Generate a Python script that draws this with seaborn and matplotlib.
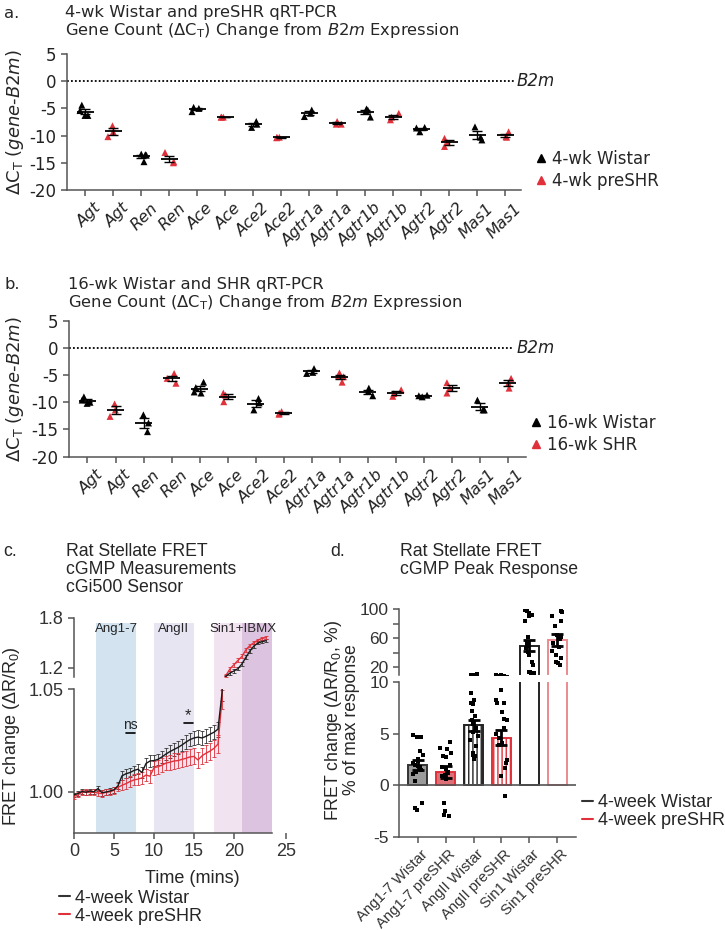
import numpy as np
import pandas as pd
import matplotlib
matplotlib.use("Agg")
import matplotlib.pyplot as plt
import matplotlib.transforms as mtrans
from matplotlib.lines import Line2D
import seaborn as sns

# ---------------- data ----------------
genes = ["Agt", "Agt", "Ren", "Ren", "Ace", "Ace", "Ace2", "Ace2",
         "Agtr1a", "Agtr1a", "Agtr1b", "Agtr1b", "Agtr2", "Agtr2", "Mas1", "Mas1"]

groups_a = ["4-wk Wistar", "4-wk preSHR"]
a_wistar = [[-4.4, -5.4, -6.3, -6.3], [-13.4, -13.6, -13.5, -14.8], [-4.8, -5.0, -5.6],
            [-7.4, -7.9, -8.5], [-5.3, -5.9, -6.5], [-5.3, -5.1, -5.5, -6.6],
            [-8.5, -8.6, -9.3], [-8.4, -10.3, -10.8]]
a_preshr = [[-8.2, -9.3, -10.2], [-13.1, -14.8, -15.0], [-6.6, -6.6, -6.6],
            [-10.3, -10.3, -10.4], [-7.4, -7.9, -7.9], [-5.9, -6.6, -7.1],
            [-10.5, -11.3, -12.0], [-9.3, -10.2, -10.3]]

groups_b = ["16-wk Wistar", "16-wk SHR"]
b_wistar = [[-9.0, -9.6, -10.2, -10.0], [-12.3, -13.8, -15.4], [-6.3, -7.3, -8.3, -8.1],
            [-9.3, -10.1, -11.4], [-3.8, -4.5, -4.7], [-7.4, -8.0, -8.8],
            [-8.7, -8.8, -9.0], [-9.6, -11.4, -11.4]]
b_shr = [[-10.3, -11.4, -12.6], [-4.7, -5.6, -6.5], [-8.3, -8.7, -9.9],
         [-11.7, -12.0, -12.2], [-4.6, -5.1, -5.3, -6.3], [-7.7, -8.4, -8.9],
         [-6.4, -7.4, -8.3], [-5.6, -6.5, -7.4]]

# panel c time course
t_c = [0, 0.5, 1, 1.5, 2, 2.5, 3, 3.5, 4, 4.5, 5, 5.5, 6, 6.5, 7, 7.5, 8, 8.5, 9, 9.5,
       10, 10.5, 11, 11.5, 12, 12.5, 13, 13.5, 14, 14.5, 15, 15.5, 16, 16.5, 17, 17.5,
       18, 18.5, 19, 19.5, 20, 20.5, 21, 21.5, 22, 22.5, 23, 23.5, 24]
c_wistar = [0.9985, 0.9992, 1.0002, 0.9998, 1.0004, 1.0000, 1.0016, 0.9996, 0.9999, 1.0004,
            1.0010, 1.0030, 1.0078, 1.0088, 1.0094, 1.0104, 1.0110, 1.0094, 1.0138, 1.0150,
            1.0152, 1.0158, 1.0170, 1.0184, 1.0196, 1.0206, 1.0216, 1.0228, 1.0242, 1.0254,
            1.0262, 1.0266, 1.0262, 1.0270, 1.0280, 1.0290, 1.0305, 1.0480,
            1.100, 1.140, 1.165, 1.192, 1.250, 1.330, 1.405, 1.465, 1.500, 1.516, 1.528]
c_wistar_err = [0.0010, 0.0010, 0.0012, 0.0012, 0.0012, 0.0012, 0.0014, 0.0014, 0.0014, 0.0015,
                0.0016, 0.0018, 0.0022, 0.0022, 0.0024, 0.0024, 0.0025, 0.0025, 0.0027, 0.0027,
                0.0028, 0.0028, 0.0029, 0.0029, 0.0030, 0.0030, 0.0031, 0.0031, 0.0032, 0.0032,
                0.0033, 0.0033, 0.0034, 0.0034, 0.0035, 0.0035, 0.0036, 0.0040,
                0.018, 0.020, 0.020, 0.021, 0.021, 0.022, 0.022, 0.020, 0.018, 0.016, 0.015]
c_preshr = [0.9978, 0.9985, 0.9998, 1.0000, 0.9996, 0.9999, 0.9994, 0.9992, 0.9998, 1.0000,
            1.0008, 1.0022, 1.0032, 1.0040, 1.0050, 1.0058, 1.0062, 1.0068, 1.0082, 1.0076,
            1.0118, 1.0122, 1.0130, 1.0140, 1.0144, 1.0150, 1.0152, 1.0158, 1.0163, 1.0170,
            1.0172, 1.0155, 1.0175, 1.0188, 1.0198, 1.0212, 1.0232, 1.0450,
            1.112, 1.190, 1.240, 1.292, 1.340, 1.420, 1.470, 1.505, 1.535, 1.555, 1.564]
c_preshr_err = [0.0012, 0.0012, 0.0013, 0.0013, 0.0013, 0.0014, 0.0014, 0.0015, 0.0015, 0.0016,
                0.0018, 0.0020, 0.0024, 0.0025, 0.0026, 0.0027, 0.0028, 0.0029, 0.0031, 0.0032,
                0.0034, 0.0035, 0.0035, 0.0036, 0.0036, 0.0037, 0.0037, 0.0038, 0.0038, 0.0039,
                0.0039, 0.0040, 0.0040, 0.0041, 0.0041, 0.0042, 0.0042, 0.0045,
                0.020, 0.022, 0.022, 0.023, 0.023, 0.024, 0.022, 0.020, 0.018, 0.016, 0.015]
c_bands = [("Ang1-7", 2.75, 7.75), ("AngII", 10.0, 15.0), ("Sin1+IBMX", 17.5, 24.75)]
c_legend = ["4-week Wistar", "4-week preSHR"]

# panel d peak responses
d_labels = ["Ang1-7 Wistar", "Ang1-7 preSHR", "AngII Wistar", "AngII preSHR",
            "Sin1 Wistar", "Sin1 preSHR"]
d_means = [1.97, 1.3, 5.8, 4.6, 49.5, 57.5]
d_sems = [0.5, 0.6, 0.55, 0.7, 7.5, 8.0]
d_points = [
    [4.9, 4.7, 4.65, 3.3, 2.95, 2.5, 2.3, 2.1, 1.95, 1.9, 1.75, 1.5, 1.25, 1.1, 0.4, -1.75, -2.2, -2.4],
    [4.2, 3.6, 3.5, 3.1, 2.8, 2.7, 2.0, 1.8, 1.55, 1.3, 1.2, 1.0, 0.85, 0.6, -1.75, -2.55, -2.9, -3.0],
    [10.5, 8.9, 8.3, 8.0, 7.9, 7.15, 6.7, 6.3, 5.9, 5.5, 5.2, 4.8, 4.35, 3.75, 3.1, 2.9, 2.8, 2.5],
    [9.2, 8.3, 8.0, 7.95, 7.05, 6.4, 6.3, 5.5, 5.0, 4.55, 4.1, 3.9, 2.45, 2.1, 1.65, 0.85, -1.1],
    [98, 97, 94.5, 92, 90, 83, 62, 53, 49, 46, 41, 36.6, 27.4, 22.8, 13.5, 12.5, 12, 11.5, 11.2],
    [97, 95.5, 90, 83, 77, 64.4, 62, 58.4, 52.8, 48.2, 42.6, 36.6, 32, 27.4, 25, 23],
]

# ---------------- style ----------------
sns.set_style("ticks")
plt.rcParams["font.family"] = ["Liberation Sans", "DejaVu Sans"]
plt.rcParams["mathtext.fontset"] = "dejavusans"
plt.rcParams["hatch.linewidth"] = 1.0
plt.rcParams["axes.linewidth"] = 1.1

AB_FONT = "DejaVu Sans"
GREY = "#555555"
RED = "#e0313b"

W, H = 725, 930
fig = plt.figure(figsize=(W / 100, H / 100), dpi=100)


def R(l, t, r, b):
    return [l / W, 1 - b / H, (r - l) / W, (b - t) / H]


def T(x, y, s, **kw):
    return fig.text(x / W, 1 - y / H, s, **kw)


def spine_style(ax, show=("left", "bottom")):
    for k, sp in ax.spines.items():
        sp.set_visible(k in show)
        sp.set_color(GREY)
        sp.set_linewidth(1.1)


# ---------------- panels a & b ----------------
def qpcr(ax, wistar, other, grp_names, xl, dot_end, b2m_x, leg_xy):
    rows = []
    for k in range(len(genes)):
        vals = (wistar if k % 2 == 0 else other)[k // 2]
        for v in vals:
            rows.append({"pos": k, "val": v, "grp": grp_names[k % 2]})
    df = pd.DataFrame(rows)
    np.random.seed(11)
    sns.stripplot(data=df, x="pos", y="val", hue="grp", hue_order=grp_names,
                  palette=["black", RED], marker="^", size=5.0, jitter=0.2,
                  linewidth=0, ax=ax, legend=False, zorder=3)
    st = df.groupby("pos")["val"].agg(["mean", "sem"])
    ax.errorbar(st.index, st["mean"], yerr=st["sem"], fmt="none", ecolor="black",
                elinewidth=1.0, capsize=3.5, capthick=1.0, zorder=4)
    ax.hlines(st["mean"], st.index - 0.3, st.index + 0.3, color="black", lw=1.3, zorder=4)
    ax.set_xlim(*xl)
    ax.set_ylim(-20, 5)
    ax.set_yticks([5, 0, -5, -10, -15, -20])
    ax.set_yticklabels(["5", "0", "-5", "-10", "-15", "-20"])
    ax.set_xlabel("")
    ax.set_ylabel("")
    spine_style(ax)
    ax.tick_params(axis="both", colors=GREY, labelcolor="#222222", length=4, width=1.1,
                   labelsize=12, labelfontfamily=AB_FONT)
    ax.set_xticks(range(len(genes)))
    ax.set_xticklabels(genes, rotation=45, ha="right", rotation_mode="anchor",
                       fontstyle="italic", fontsize=11.5, family=AB_FONT)
    off = mtrans.ScaledTranslation(6 / 72, 0, fig.dpi_scale_trans)
    for lab in ax.get_xticklabels():
        lab.set_transform(lab.get_transform() + off)
    ax.plot([xl[0], dot_end], [0, 0], ls=(0, (1, 1.2)), color="black", lw=1.3, clip_on=False)
    ax.text(b2m_x, 0, "B2m", fontstyle="italic", family=AB_FONT, fontsize=12,
            va="center", ha="left", color="#222222")
    handles = [Line2D([], [], ls="none", marker="^", color="black", markersize=6),
               Line2D([], [], ls="none", marker="^", color=RED, markersize=6)]
    ax.legend(handles, grp_names, loc="upper left",
              bbox_to_anchor=(leg_xy[0] / W, 1 - leg_xy[1] / H), bbox_transform=fig.transFigure,
              frameon=False, borderpad=0, borderaxespad=0, handlelength=0.8,
              handletextpad=0.3, labelspacing=0.25, prop={"family": AB_FONT, "size": 12})


axA = fig.add_axes(R(67, 54, 521, 190))
qpcr(axA, a_wistar, a_preshr, groups_a, (-0.657, 15.56), 15.3, 15.41, (534, 150))
axB = fig.add_axes(R(69, 320.7, 526, 456.7))
qpcr(axB, b_wistar, b_shr, groups_b, (-0.66, 15.65), 15.15, 15.33, (529, 414))

ylab_ab = r"ΔC$_\mathregular{T}$ ($\mathit{gene}$-$\mathit{B2m}$)"
T(15, 122, ylab_ab, rotation=90, ha="center", va="center", fontsize=13, family=AB_FONT)
T(15, 389, ylab_ab, rotation=90, ha="center", va="center", fontsize=13, family=AB_FONT)

T(4, 17.5, "a.", fontsize=11.8, family=AB_FONT, va="baseline")
T(64.6, 17.5, "4-wk Wistar and preSHR qRT-PCR", fontsize=11.8, family=AB_FONT, va="baseline")
T(64.6, 34.5, r"Gene Count (ΔC$_\mathregular{T}$) Change from $\mathit{B2m}$ Expression",
  fontsize=11.8, family=AB_FONT, va="baseline")
T(4, 289, "b.", fontsize=11.8, family=AB_FONT, va="baseline")
T(68, 289, "16-wk Wistar and SHR qRT-PCR", fontsize=11.8, family=AB_FONT, va="baseline")
T(68, 306.7, r"Gene Count (ΔC$_\mathregular{T}$) Change from $\mathit{B2m}$ Expression",
  fontsize=11.8, family=AB_FONT, va="baseline")

# ---------------- panel c ----------------
XR = 26.5
px_right = 74 + XR * 8.0
band_cols = ["#d3e4f0", "#e7e5f2", "#f1e3f0"]
axbg = fig.add_axes(R(74, 622.7, px_right, 833))
axbg.set_xlim(0, XR)
axbg.set_ylim(0, 1)
for (name, a0, a1), col in zip(c_bands, band_cols):
    axbg.axvspan(a0, a1, color=col, lw=0)
axbg.axvspan(21.0, c_bands[2][2], color="#dcc4e0", lw=0)
axbg.set_axis_off()

axcu = fig.add_axes(R(74, 618, px_right, 677))
axcl = fig.add_axes(R(74, 689, px_right, 833))
for ax in (axcu, axcl):
    ax.set_facecolor("none")
    ax.errorbar(t_c, c_wistar, yerr=c_wistar_err, fmt="none", ecolor="#333333",
                elinewidth=0.6, capsize=1.6, capthick=0.6, zorder=3)
    ax.errorbar(t_c, c_preshr, yerr=c_preshr_err, fmt="none", ecolor=RED,
                elinewidth=0.6, capsize=1.6, capthick=0.6, zorder=3)
    sns.lineplot(x=t_c, y=c_preshr, color=RED, lw=1.0, ax=ax, zorder=4)
    sns.lineplot(x=t_c, y=c_wistar, color="#1a1a1a", lw=1.0, ax=ax, zorder=5)
    ax.set_xlim(0, XR)
    ax.tick_params(axis="both", colors=GREY, labelcolor="#333333", length=4, width=1.1,
                   labelsize=13)

axcu.set_ylim(1.092, 1.8)
axcu.set_yticks([1.2, 1.8])
axcu.set_yticklabels(["1.2", "1.8"])
axcu.set_xticks([])
spine_style(axcu, show=("left",))
axcl.set_ylim(0.98, 1.05)
axcl.set_yticks([1.00, 1.05])
axcl.set_yticklabels(["1.00", "1.05"])
axcl.set_xticks([0, 5, 10, 15, 20, XR])
axcl.set_xticklabels(["0", "5", "10", "15", "20", "25"])
spine_style(axcl)
axcl.spines["bottom"].set_bounds(0, 24.8)

for name, a0, a1 in c_bands:
    axcu.text((a0 + a1) / 2, 1.668, name, ha="center", va="center", fontsize=9.5)

axcl.plot([6.46, 7.6], [1.0285, 1.0285], color="black", lw=1.2)
axcl.text(7.03, 1.0292, "ns", ha="center", va="bottom", fontsize=10)
axcl.plot([13.7, 14.9], [1.0336, 1.0336], color="black", lw=1.2)
axcl.text(14.3, 1.0336, "*", ha="center", va="bottom", fontsize=12)

T(192, 883, "Time (mins)", ha="center", va="baseline", fontsize=13)
T(12, 736, "FRET change (ΔR/R$_\\mathregular{0}$)", rotation=90, ha="center", va="center",
  fontsize=13)
lh = [Line2D([], [], color="#333333", lw=1.5), Line2D([], [], color=RED, lw=1.5)]
axcl.legend(lh, c_legend, loc="upper left", bbox_to_anchor=(59 / W, 1 - 889.5 / H),
            bbox_transform=fig.transFigure, frameon=False, borderpad=0, borderaxespad=0,
            handlelength=0.61, handletextpad=0.28, labelspacing=0.07, prop={"size": 13})

T(3, 556, "c.", fontsize=12.7, va="baseline")
T(66, 556, "Rat Stellate FRET", fontsize=12.7, va="baseline")
T(66, 574, "cGMP Measurements", fontsize=12.7, va="baseline")
T(66, 592, "cGi500 Sensor", fontsize=12.7, va="baseline")

# ---------------- panel d ----------------
bar_face = ["#9a9a9a", "#dc7077", "white", "white", "white", "white"]
bar_edge = ["#333333", RED, "#222222", RED, "#222222", "#ec8a8f"]
bar_hatch = [None, None, "||||", "||||", None, None]

rows = []
for lab, pts in zip(d_labels, d_points):
    for v in pts:
        rows.append({"cond": lab, "val": v})
df_d = pd.DataFrame(rows)

axdu = fig.add_axes(R(399, 609, 576, 675))
axdl = fig.add_axes(R(399, 682, 576, 836.7))
for ax in (axdu, axdl):
    ax.set_facecolor("none")
    sns.barplot(x=d_labels, y=d_means, order=d_labels, color="white", width=0.68,
                errorbar=None, ax=ax, zorder=2)
    for p, fc, ec, h in zip(ax.patches, bar_face, bar_edge, bar_hatch):
        p.set_facecolor(fc)
        p.set_edgecolor(ec)
        p.set_linewidth(1.4)
        if h:
            p.set_hatch(h)
    np.random.seed(7)
    sns.stripplot(data=df_d, x="cond", y="val", order=d_labels, color="black", marker="s",
                  size=2.2, jitter=0.2, linewidth=0, ax=ax, zorder=4)
    ax.errorbar(range(len(d_labels)), d_means, yerr=d_sems, fmt="none", ecolor="black",
                elinewidth=2, capsize=4, capthick=2, zorder=5)
    ax.set_xlim(-0.67, 5.67)
    ax.set_xlabel("")
    ax.set_ylabel("")
    ax.tick_params(axis="both", colors=GREY, labelcolor="#333333", length=4, width=1.1,
                   labelsize=12.5)

axdu.set_ylim(8.97, 100)
axdu.set_yticks([20, 40, 60, 80, 100])
axdu.set_yticklabels(["20", "", "60", "", "100"])
axdu.tick_params(axis="x", bottom=False, labelbottom=False)
spine_style(axdu, show=("left",))

axdl.set_ylim(-5, 10)
axdl.set_yticks([-5, 0, 5, 10])
axdl.set_yticklabels(["-5", "0", "5", "10"])
axdl.axhline(0, color=GREY, lw=1.2, zorder=3)
spine_style(axdl)
axdl.set_xticks(range(len(d_labels)))
axdl.set_xticklabels(d_labels, rotation=45, ha="right", rotation_mode="anchor", fontsize=10.7)
offd = mtrans.ScaledTranslation(2 / 72, 0, fig.dpi_scale_trans)
for lab in axdl.get_xticklabels():
    lab.set_transform(lab.get_transform() + offd)

axdl.legend(lh, c_legend, loc="upper left", bbox_to_anchor=(582 / W, 1 - 794 / H),
            bbox_transform=fig.transFigure, frameon=False, borderpad=0, borderaxespad=0,
            handlelength=0.61, handletextpad=0.28, labelspacing=0.07, prop={"size": 13})

T(341.5, 720, "FRET change (ΔR/R$_\\mathregular{0}$, %)\n% of max response", rotation=90,
  ha="center", va="center", multialignment="center", linespacing=0.95, fontsize=12.7)

T(330, 556, "d.", fontsize=12.7, va="baseline")
T(400, 556, "Rat Stellate FRET", fontsize=12.7, va="baseline")
T(400, 574, "cGMP Peak Response", fontsize=12.7, va="baseline")

fig.savefig("out.png", dpi=100)
